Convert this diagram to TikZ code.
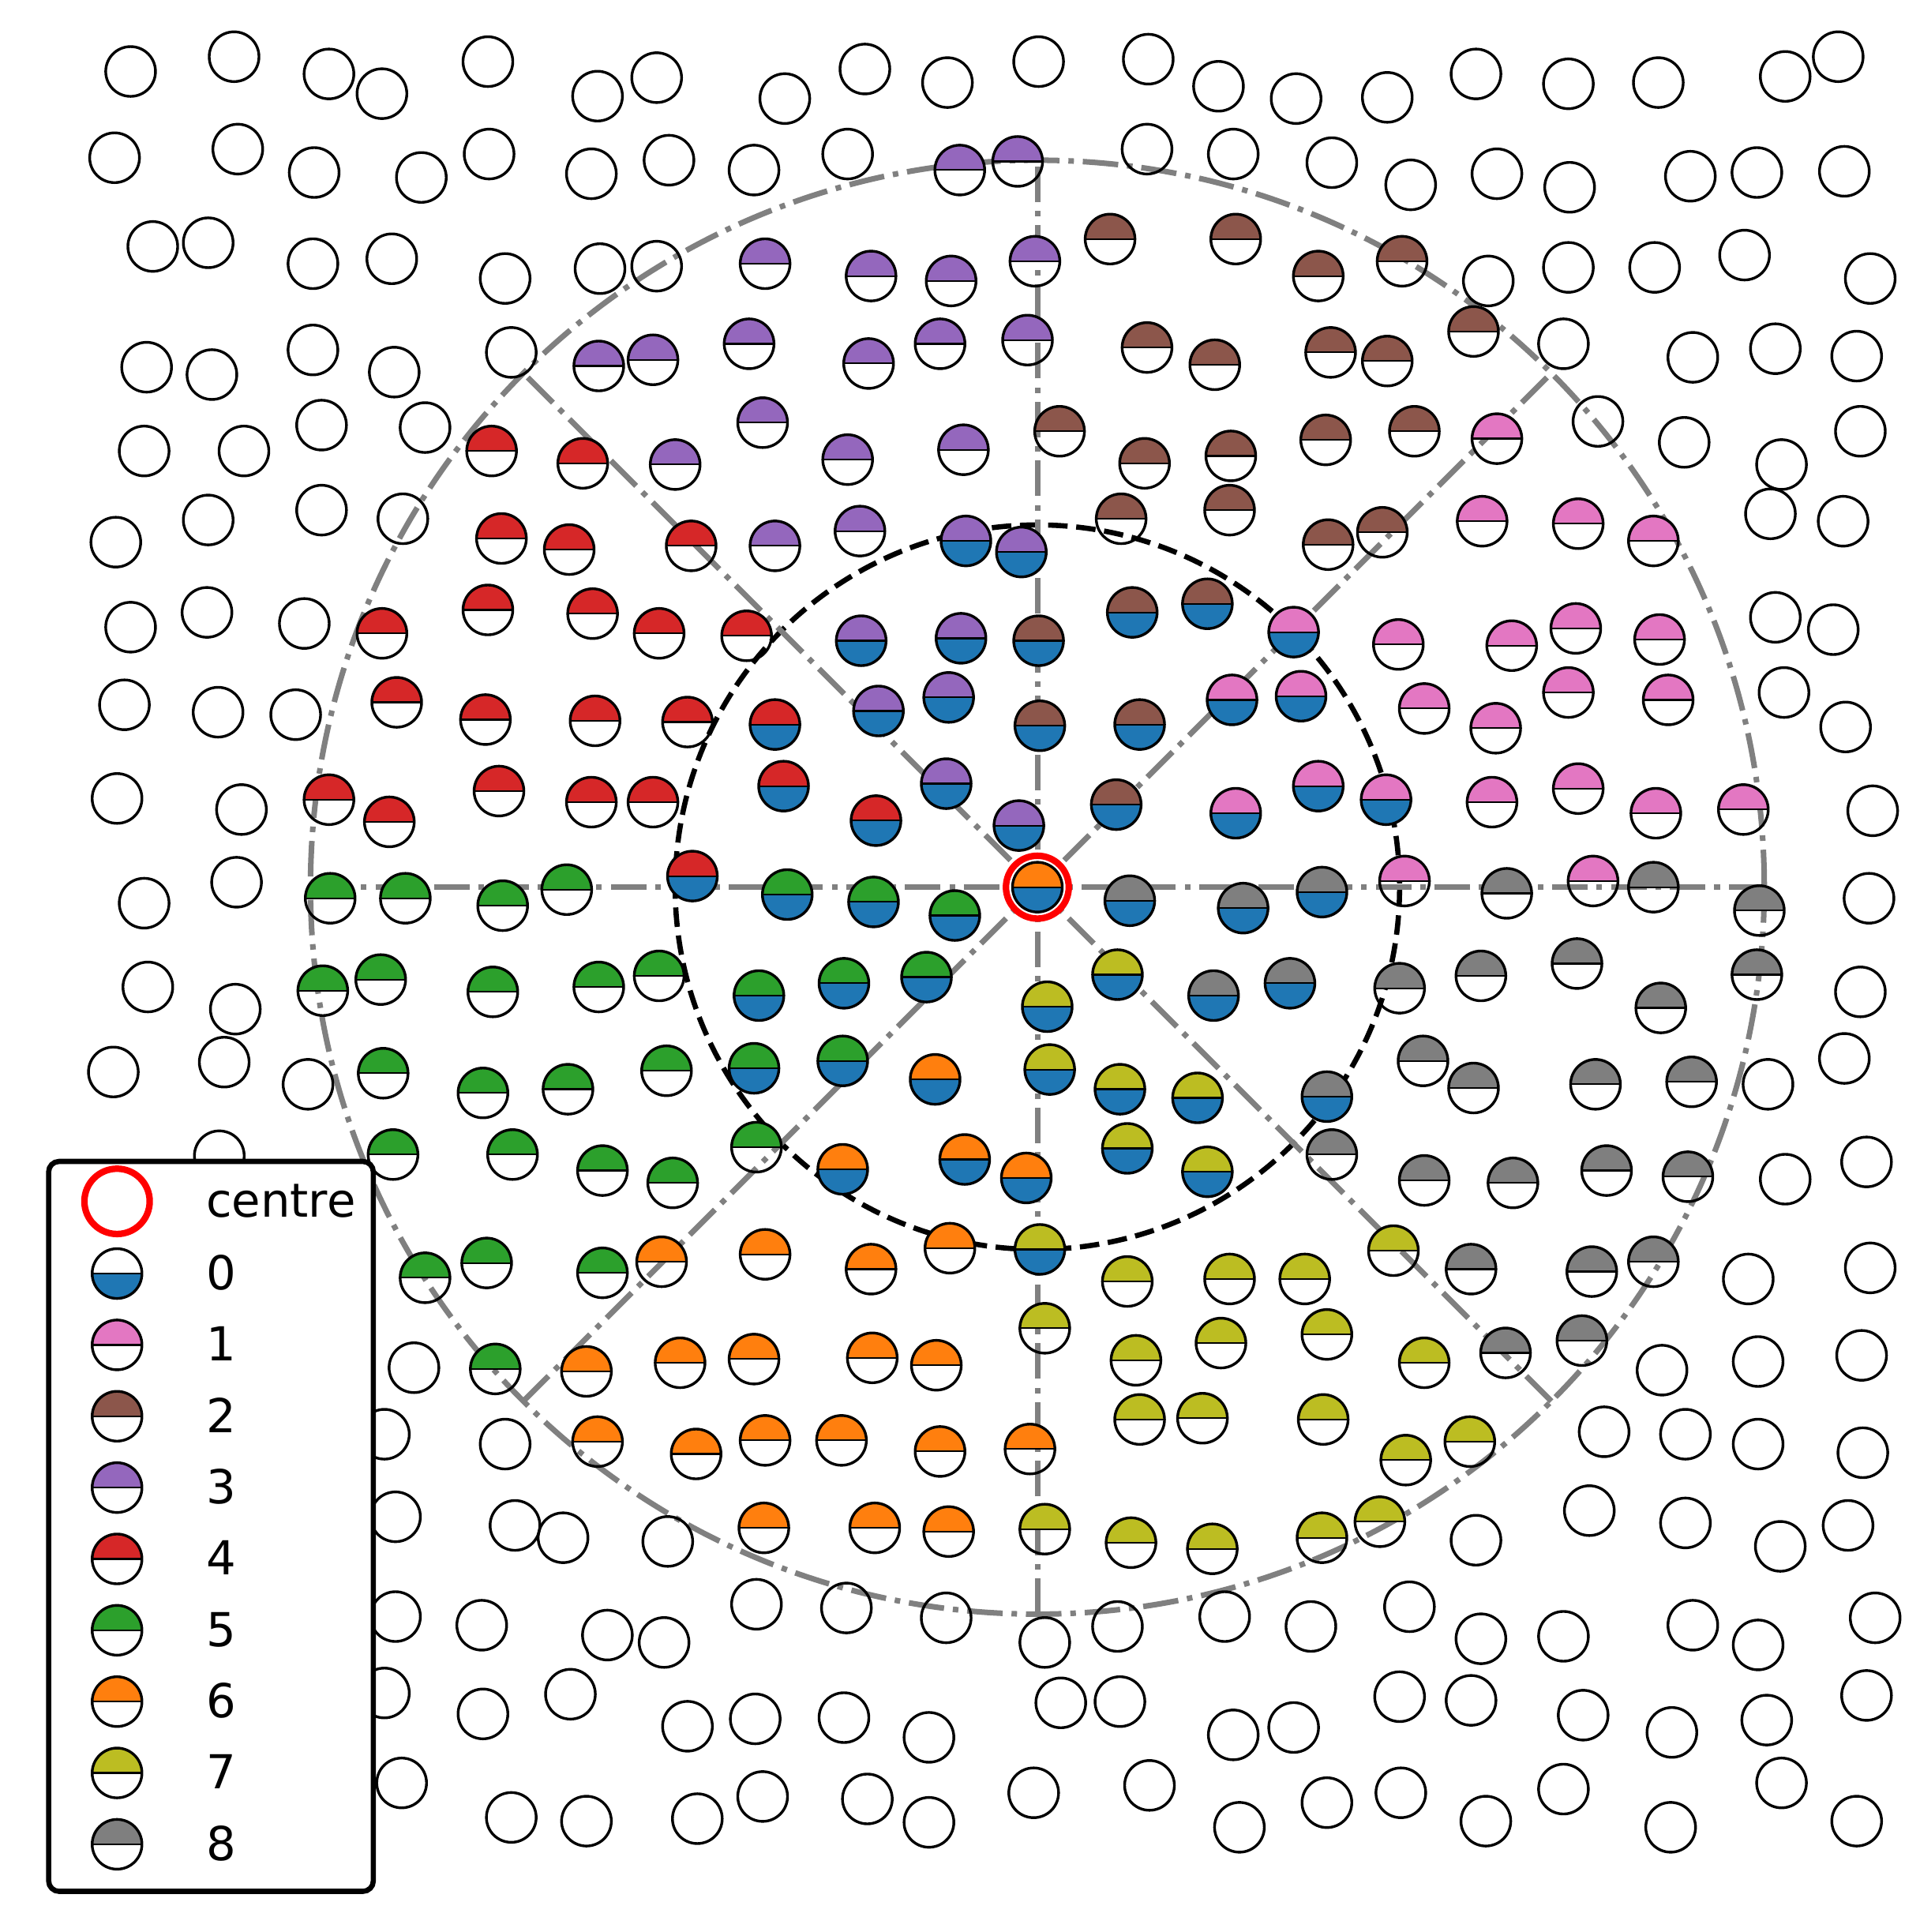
\documentclass[tikz,border=0pt]{standalone}
\usepackage{fontspec}
\setmainfont{DejaVu Sans}
\usetikzlibrary{calc}
\definecolor{cA}{HTML}{1F77B4}% 0 blue
\definecolor{cOr}{HTML}{FF7F0E}% 6 orange
\definecolor{cGr}{HTML}{2CA02C}% 5 green
\definecolor{cRd}{HTML}{D62728}% 4 red
\definecolor{cPu}{HTML}{9467BD}% 3 purple
\definecolor{cBr}{HTML}{8C564B}% 2 brown
\definecolor{cPk}{HTML}{E377C2}% 1 pink
\definecolor{cGy}{HTML}{7F7F7F}% 8 gray
\definecolor{cOl}{HTML}{BCBD22}% 7 olive
\definecolor{lineGray}{HTML}{808080}
\def\mr{20.2}
\tikzset{
  mk/.style={draw=black,line width=0.62pt},
  midl/.style={draw=black,line width=0.4pt},
  spoke/.style={draw=lineGray,line width=1.28pt,dash pattern=on 8.2pt off 2.05pt on 1.28pt off 2.05pt},
  outerc/.style={draw=lineGray,line width=1.28pt,dash pattern=on 8.2pt off 2.05pt on 1.28pt off 2.05pt},
  innerc/.style={draw=black,line width=1.2pt,dash pattern=on 4.5pt off 2pt},
  ringc/.style={draw=red,line width=1.5pt},
  legbox/.style={draw=black,line width=1.2pt,fill=white,rounded corners=2.4pt},
  legtext/.style={anchor=base west,inner sep=0pt,font=\fontsize{10.8}{13}\selectfont}
}
\newcommand{\halfW}[3]{%
  \fill[#3] (#1-\mr,#2) arc[start angle=180,end angle=360,radius=\mr] -- cycle;
  \draw[mk] (#1,#2) circle[radius=\mr];
  \draw[midl] (#1-\mr,#2) -- (#1+\mr,#2);}
\newcommand{\halfB}[3]{%
  \fill[#3] (#1-\mr,#2) arc[start angle=180,end angle=360,radius=\mr] -- cycle;
  \fill[cA] (#1+\mr,#2) arc[start angle=0,end angle=180,radius=\mr] -- cycle;
  \draw[mk] (#1,#2) circle[radius=\mr];
  \draw[midl] (#1-\mr,#2) -- (#1+\mr,#2);}
\newcommand{\halfBot}[2]{%
  \fill[cA] (#1+\mr,#2) arc[start angle=0,end angle=180,radius=\mr] -- cycle;
  \draw[mk] (#1,#2) circle[radius=\mr];
  \draw[midl] (#1-\mr,#2) -- (#1+\mr,#2);}
\begin{document}
\begin{tikzpicture}[x=0.01cm,y=-0.01cm]
\fill[white] (0,0) rectangle (1558,1568);
\useasboundingbox (0,0) rectangle (1558,1568);
\coordinate (C) at (842,720);
% reference circles and spokes
\draw[outerc] (C) circle[radius=590];
\draw[innerc] (C) circle[radius=294];
\foreach \a in {0,45,90,135} {
  \draw[spoke] ($(C)+(\a:590)$) -- ($(C)+(\a+180:590)$);
}
% plain (empty) points
\foreach \x/\y in {106/58,190/46,267/60,310/76,396/50,485/78,533/63,637/80,702/56,769/67,843/50,932/48,989/70,1052/80,1126/79,1198/60,1273/68,1346/67,1449/62,1492/46,
93/128,193/121,255/140,342/144,397/125,480/141,543/130,612/138,688/125,931/121,1001/125,1081/132,1145/150,1215/141,1274/152,1372/143,1426/140,1497/139,
124/200,169/197,254/214,318/210,410/226,487/218,533/216,1208/228,1273/217,1343/217,1416/207,1518/226,
119/298,172/304,254/284,320/302,415/286,1269/279,1374/290,1441/283,1507/289,
117/366,198/366,261/345,345/347,1297/342,1367/359,1446/377,1510/350,
94/440,169/422,261/414,327/421,1437/417,1496/423,
106/509,168/497,247/506,1441/501,1488/511,
101/572,177/578,240/580,1448/562,1498/590,
95/648,196/657,1520/658,
117/733,192/716,1517/729,
120/801,191/819,1510/805,
92/870,182/862,250/880,1435/880,1497/859,
178/938,1449/957,1515/943,
1419/1038,1518/1029,
336/1110,1349/1112,1427/1105,1511/1100,
312/1164,410/1172,1302/1162,1368/1164,1427/1172,1512/1179,
321/1231,418/1238,457/1248,542/1251,1198/1250,1290/1226,1368/1236,1445/1255,1500/1238,
321/1312,391/1319,493/1327,539/1333,614/1302,687/1305,768/1313,848/1333,907/1320,994/1312,1064/1320,1144/1304,1202/1330,1269/1328,1374/1319,1427/1335,1522/1313,
312/1374,392/1391,463/1375,558/1401,613/1395,685/1394,754/1410,861/1382,909/1381,1001/1408,1050/1402,1136/1377,1194/1380,1285/1392,1357/1406,1434/1396,1515/1376,
326/1447,415/1475,476/1478,566/1476,619/1458,704/1460,754/1479,839/1455,933/1449,1006/1483,1077/1463,1137/1455,1206/1478,1269/1452,1356/1483,1446/1447,1507/1478}
  {\draw[mk] (\x,\y) circle[radius=\mr];}
% outer-ring members (bottom half empty)
\foreach \x/\y in {779/138,826/131,621/214,707/224,772/228,840/212,486/297,530/292,608/279,705/295,763/279,834/276,619/343,548/377,688/373,782/365,629/443,698/431}
  {\halfW{\x}{\y}{cPu}}
\foreach \x/\y in {901/194,1003/194,1070/224,1138/212,931/282,986/296,1080/286,1126/293,1196/269,860/350,929/376,999/370,1076/357,1148/350,910/421,998/414,1078/442,1122/432}
  {\halfW{\x}{\y}{cBr}}
\foreach \x/\y in {1215/356,1203/423,1281/425,1342/439,1135/523,1227/524,1279/510,1347/519,1156/575,1214/591,1273/562,1354/568,1211/651,1281/640,1344/660,1415/657,1140/715,1293/715}
  {\halfW{\x}{\y}{cPk}}
\foreach \x/\y in {399/366,473/376,407/437,462/446,561/443,310/514,396/495,481/498,535/514,606/516,322/570,394/584,483/585,558/586,267/649,316/667,405/642,480/651,530/651}
  {\halfW{\x}{\y}{cRd}}
\foreach \x/\y in {268/729,329/729,408/735,460/722,262/804,309/795,400/805,486/801,535/792,311/871,392/887,461/884,541/869,319/937,416/937,489/950,546/960,614/931,345/1037,395/1025,489/1033,402/1111}
  {\halfW{\x}{\y}{cGr}}
\foreach \x/\y in {537/1024,621/1018,707/1030,771/1013,476/1113,552/1106,612/1103,708/1102,760/1108,485/1170,565/1180,621/1169,683/1169,763/1178,836/1176,620/1240,710/1240,770/1243}
  {\halfW{\x}{\y}{cOr}}
\foreach \x/\y in {915/1040,998/1038,1059/1038,1131/1015,848/1078,922/1104,991/1090,1077/1083,1156/1106,925/1152,976/1151,1074/1152,1141/1185,1193/1170,848/1241,918/1252,984/1257,1073/1248,1120/1235}
  {\halfW{\x}{\y}{cOl}}
\foreach \x/\y in {1223/725,1342/720,1428/739,1136/802,1202/792,1280/782,1426/791,1348/818,1155/861,1196/883,1295/880,1373/878,1081/937,1156/958,1228/960,1304/950,1370/955,1194/1030,1292/1032,1342/1024,1222/1098,1284/1088}
  {\halfW{\x}{\y}{cGy}}
% inner-circle members (bottom half class 0)
\foreach \x/\y in {784/439,829/448,699/520,780/518,713/577,770/566,768/636,827/670}
  {\halfB{\x}{\y}{cPu}}
\foreach \x/\y in {843/520,919/497,980/490,844/589,925/588,906/653}
  {\halfB{\x}{\y}{cBr}}
\foreach \x/\y in {1050/513,1000/568,1056/565,1003/660,1070/638,1125/649}
  {\halfB{\x}{\y}{cPk}}
\foreach \x/\y in {629/588,636/638,711/666,562/711}
  {\halfB{\x}{\y}{cRd}}
\foreach \x/\y in {639/726,709/732,775/743,616/808,685/798,752/793,612/867,684/861}
  {\halfB{\x}{\y}{cGr}}
\foreach \x/\y in {759/876,684/949,783/941,833/956}
  {\halfB{\x}{\y}{cOr}}
\foreach \x/\y in {907/791,850/817,852/868,909/884,972/891,915/932,980/951,844/1014}
  {\halfB{\x}{\y}{cOl}}
\foreach \x/\y in {917/731,1009/737,1073/724,985/808,1047/798,1077/890}
  {\halfB{\x}{\y}{cGy}}
% centre
\draw[ringc,fill=white] (C) circle[radius=25.5];
\halfB{842}{720}{cOr}
% legend
\draw[legbox] (39.5,942.6) rectangle (303,1535);
\draw[ringc] (95,975) circle[radius=26.5];
\node[legtext] (lcentre) at (166.6,988) {centre};
\halfBot{95}{1033.6}
\node[legtext] (l0) at (166.6,1046.6) {0};
\foreach \c/\t [count=\i] in {cPk/1,cBr/2,cPu/3,cRd/4,cGr/5,cOr/6,cOl/7,cGy/8} {
  \pgfmathsetmacro{\yy}{1033.6+57.9*\i}
  \halfW{95}{\yy}{\c}
  \node[legtext] (l\t) at (166.6,\yy+13) {\t};
}
\end{tikzpicture}
\end{document}
